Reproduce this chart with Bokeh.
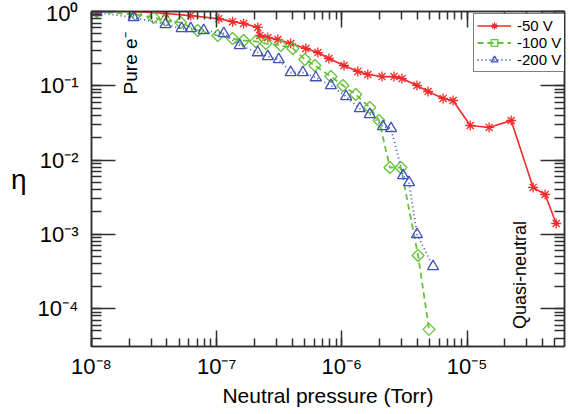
from bokeh.plotting import figure
from bokeh.models import (Range1d, LogAxis, LogTicker, Legend, LegendItem,
                          Label, CustomJSTickFormatter)
from bokeh.embed import file_html
from bokeh.resources import INLINE
import math

# ---------------- data ----------------
series_names = ["-50 V", "-100 V", "-200 V"]

p50 = [1.1e-8, 2.17e-8, 3.9e-8, 6.2e-8, 1.04e-7, 1.34e-7, 1.64e-7, 2.13e-7, 2.21e-7,
       2.56e-7, 3.08e-7, 3.9e-7, 5.15e-7, 6.43e-7, 7.87e-7, 1.04e-6, 1.34e-6, 1.61e-6,
       2.09e-6, 2.61e-6, 3.02e-6, 3.98e-6, 4.88e-6, 6.43e-6, 7.73e-6, 1.06e-5, 1.5e-5,
       2.25e-5, 3.37e-5, 4.2e-5, 5.15e-5]
eta50 = [1.0, 1.0, 0.94, 0.88, 0.80, 0.73, 0.69, 0.61, 0.475,
         0.447, 0.42, 0.37, 0.318, 0.28, 0.233, 0.1875, 0.156, 0.142,
         0.133, 0.133, 0.125, 0.101, 0.0838, 0.0675, 0.0634, 0.0292, 0.0275,
         0.0341, 0.00428, 0.00344, 0.0014]

p100 = [1.1e-8, 2.25e-8, 3.13e-8, 3.9e-8, 5.15e-8, 7.05e-8, 1.02e-7, 1.34e-7, 1.64e-7,
        2.05e-7, 2.47e-7, 3.25e-7, 4.06e-7, 5.06e-7, 6.08e-7, 8.17e-7, 1.02e-6, 1.29e-6,
        1.67e-6, 1.98e-6, 2.42e-6, 2.96e-6, 4.06e-6, 4.97e-6]
eta100 = [1.0, 0.91, 0.83, 0.76, 0.71, 0.555, 0.475, 0.433, 0.407,
          0.395, 0.37, 0.349, 0.318, 0.226, 0.1875, 0.133, 0.101, 0.0764,
          0.051, 0.0341, 0.00794, 0.00794, 0.00052, 5.25e-5]

p200 = [1.1e-8, 2.17e-8, 3.9e-8, 5.25e-8, 6.2e-8, 7.87e-8, 1.14e-7, 1.53e-7, 2.13e-7,
        2.56e-7, 3.13e-7, 3.9e-7, 4.88e-7, 6.19e-7, 8.17e-7, 1.08e-6, 1.39e-6, 1.67e-6,
        2.13e-6, 2.47e-6, 3.08e-6, 3.44e-6, 3.98e-6, 5.35e-6]
eta200 = [0.97, 0.83, 0.67, 0.59, 0.59, 0.555, 0.506, 0.349, 0.28,
          0.248, 0.226, 0.151, 0.151, 0.129, 0.101, 0.0718, 0.0494, 0.0411,
          0.0283, 0.0266, 0.0062, 0.005, 0.001, 0.00037]

xtick_vals = [1e-8, 1e-7, 1e-6, 1e-5]
xtick_labels = ["10\u207b\u2078", "10\u207b\u2077", "10\u207b\u2076", "10\u207b\u2075"]
ytick_vals = [1.0, 1e-1, 1e-2, 1e-3, 1e-4]
ytick_labels = ["10\u2070", "10\u207b\u00b9", "10\u207b\u00b2", "10\u207b\u00b3", "10\u207b\u2074"]

x_title = "Neutral pressure (Torr)"
y_title = "\u03b7"
note_left = "Pure e\u207b"
note_right = "Quasi-neutral"

X_MIN, X_MAX = 1e-8, 6.0e-5
Y_MIN, Y_MAX = 10 ** -4.51, 1.0

FONT = "Liberation Sans"
RED, GREEN, BLUE = "#f42a2a", "#66c23a", "#4152b8"
FRAME = "#303030"

LOOKUP = """
for (let i = 0; i < vals.length; i++) {
  if (Math.abs(Math.log10(tick) - Math.log10(vals[i])) < 1e-6) return labels[i];
}
return "";
"""

p = figure(width=570, height=414, x_axis_type="log", y_axis_type="log",
           x_range=Range1d(X_MIN, X_MAX), y_range=Range1d(Y_MIN, Y_MAX),
           output_backend="svg", toolbar_location=None,
           min_border_left=91, min_border_right=6, min_border_top=11,
           min_border_bottom=68, background_fill_color="white",
           border_fill_color="white")
p.grid.visible = False
p.outline_line_color = FRAME
p.outline_line_width = 1.5

bottom_ax = p.xaxis[0]
left_ax = p.yaxis[0]
bottom_ax.formatter = CustomJSTickFormatter(args=dict(vals=xtick_vals, labels=xtick_labels),
                                            code=LOOKUP)
left_ax.formatter = CustomJSTickFormatter(args=dict(vals=ytick_vals, labels=ytick_labels),
                                          code=LOOKUP)
blank = "return '';"
top_ax = LogAxis(ticker=LogTicker(num_minor_ticks=10),
                 formatter=CustomJSTickFormatter(code=blank))
right_ax = LogAxis(ticker=LogTicker(num_minor_ticks=10),
                   formatter=CustomJSTickFormatter(code=blank))
p.add_layout(top_ax, "above")
p.add_layout(right_ax, "right")

for ax in [bottom_ax, top_ax]:
    ax.major_tick_in = 16
    ax.minor_tick_in = 8
for ax in [left_ax, right_ax]:
    ax.major_tick_in = 24
    ax.minor_tick_in = 10
for ax in [bottom_ax, top_ax, left_ax, right_ax]:
    ax.major_tick_out = 0
    ax.minor_tick_out = 0
    ax.axis_line_color = FRAME
    ax.axis_line_width = 1.5
    ax.major_tick_line_color = FRAME
    ax.minor_tick_line_color = FRAME
    ax.major_tick_line_width = 1.5
    ax.minor_tick_line_width = 1.5
    ax.major_label_text_font = FONT
    ax.major_label_text_color = "black"
    ax.axis_label_text_font = FONT
    ax.axis_label_text_color = "black"
    ax.axis_label_text_font_style = "normal"
for ax in [top_ax, right_ax]:
    ax.major_label_text_font_size = "1px"
    ax.major_label_standoff = 0

bottom_ax.major_label_text_font_size = "22px"
bottom_ax.major_label_standoff = 7
bottom_ax.axis_label = x_title
bottom_ax.axis_label_text_font_size = "21px"
bottom_ax.axis_label_standoff = 2

left_ax.major_label_text_font_size = "22px"
left_ax.major_label_standoff = 13
left_ax.axis_label = y_title
left_ax.axis_label_orientation = "horizontal"
left_ax.axis_label_text_font_size = "28px"
left_ax.axis_label_standoff = 8

# series
l50 = p.line(p50, eta50, line_color=RED, line_width=1.6)
s50 = p.scatter(p50, eta50, marker="asterisk", size=10, line_color=RED, line_width=1.3)
l100 = p.line(p100, eta100, line_color=GREEN, line_width=1.8, line_dash="6 4")
s100 = p.scatter(p100, eta100, marker="square", angle=math.pi / 4, size=8.5,
                 line_color=GREEN, fill_color=None, line_width=1.3)
l200 = p.line(p200, eta200, line_color=BLUE, line_width=1.8, line_dash="1 3")
s200 = p.scatter(p200, eta200, marker="triangle", size=11, line_color=BLUE,
                 fill_color=None, line_width=1.3)

legend = Legend(items=[LegendItem(label=series_names[0], renderers=[l50, s50]),
                       LegendItem(label=series_names[1], renderers=[l100, s100]),
                       LegendItem(label=series_names[2], renderers=[l200, s200])],
                location=(382, 274))
legend.label_text_font = FONT
legend.label_text_font_size = "15px"
legend.label_text_color = "black"
legend.label_height = 17
legend.glyph_height = 17
legend.glyph_width = 34
legend.label_standoff = 6
legend.spacing = 0
legend.padding = 3
legend.margin = 0
legend.border_line_color = "black"
legend.border_line_width = 1.5
legend.background_fill_color = "white"
legend.background_fill_alpha = 1.0
p.add_layout(legend, "center")

# annotations inside the frame
p.add_layout(Label(x=2.05e-8, y=0.2, text=note_left, angle=math.pi / 2, text_align="center",
                   text_baseline="middle", text_font=FONT, text_font_size="19px",
                   text_color="black"))
p.add_layout(Label(x=2.67e-5, y=2.83e-4, text=note_right, angle=math.pi / 2,
                   text_align="center", text_baseline="middle", text_font=FONT,
                   text_font_size="18px", text_color="black"))

open("out.html", "w").write(file_html(p, INLINE))
